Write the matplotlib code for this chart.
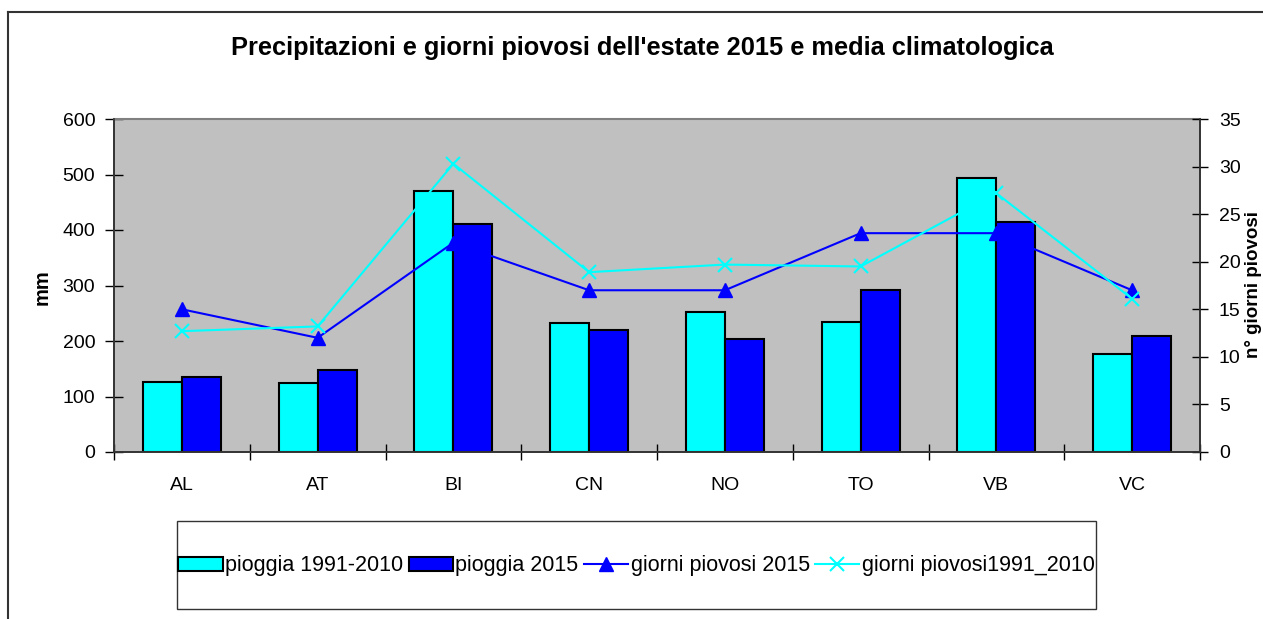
import matplotlib
matplotlib.use('Agg')
import matplotlib.pyplot as plt
from matplotlib.lines import Line2D
from matplotlib.patches import Patch, Rectangle
import numpy as np

plt.rcParams['font.family'] = ['Liberation Sans', 'DejaVu Sans']

regions = ['AL', 'AT', 'BI', 'CN', 'NO', 'TO', 'VB', 'VC']
pioggia_clima = [127, 124, 470, 232, 253, 234, 494, 176]
pioggia_2015 = [135, 147, 411, 219, 203, 291, 414, 209]
giorni_2015 = [15, 12, 22, 17, 17, 23, 23, 17]
giorni_clima = [12.7, 13.2, 30.3, 18.9, 19.7, 19.5, 27.2, 16.1]

W, H = 1263, 619
CYAN = '#00FFFF'
BLUE = '#0000FF'
GREY = '#C0C0C0'


def px(x, y):
    # pixel (from top-left) to figure fraction
    return x / W, 1 - y / H


fig = plt.figure(figsize=(W / 100, H / 100), dpi=100)
left, top = px(114, 119)
right, bottom = px(1200, 452)
ax = fig.add_axes([left, bottom, right - left, top - bottom])
ax.set_facecolor(GREY)

x = np.arange(len(regions))
w = 0.287
ax.bar(x - w / 2, pioggia_clima, w, color=CYAN, edgecolor='black', linewidth=1.5, zorder=2)
ax.bar(x + w / 2, pioggia_2015, w, color=BLUE, edgecolor='black', linewidth=1.5, zorder=2)

ax.set_xlim(-0.5, len(regions) - 0.5)
ax.set_ylim(0, 600)
ax.set_yticks(range(0, 601, 100))
ax.set_xticks(np.arange(-0.5, len(regions), 1))
ax.set_xticklabels([])
ax.set_xticks(x, minor=True)
ax.set_xticklabels(regions, minor=True)
ax.tick_params(axis='x', which='major', direction='inout', length=12, width=1, color='black')
ax.tick_params(axis='x', which='minor', length=0, pad=18, labelsize=14)
ax.tick_params(axis='y', direction='inout', length=13, width=1, pad=7, labelsize=14)

for side in ['left', 'bottom', 'right']:
    ax.spines[side].set_color('#333333')
    ax.spines[side].set_linewidth(1.2)
ax.spines['top'].set_color('#808080')
ax.spines['top'].set_linewidth(1.5)

ax2 = ax.twinx()
ax2.plot(x, giorni_2015, color=BLUE, linewidth=1.5, marker='^', markersize=10, zorder=3)
ax2.plot(x, giorni_clima, color=CYAN, linewidth=1.5, marker='x', markersize=10, markeredgewidth=1.5, zorder=3)
ax2.set_ylim(0, 35)
ax2.set_yticks(range(0, 36, 5))
ax2.tick_params(axis='y', direction='inout', length=11, width=1, pad=8, labelsize=14)
for side in ['left', 'bottom', 'right']:
    ax2.spines[side].set_color('#333333')
    ax2.spines[side].set_linewidth(1.2)
ax2.spines['top'].set_visible(False)

fig.text(*px(642, 48), "Precipitazioni e giorni piovosi dell'estate 2015 e media climatologica",
         ha='center', va='center', fontsize=18.3, fontweight='bold')
fig.text(*px(42, 287), 'mm', rotation=90, ha='center', va='center', fontsize=14.5, fontweight='bold')
fig.text(*px(1262, 285), 'n° giorni piovosi', rotation=90, ha='right', va='center',
         fontsize=13.5, fontweight='bold')

# outer chart frame
fig.add_artist(Line2D([8 / W, 8 / W], [1 - 12 / H, 0], transform=fig.transFigure, color='#333333', linewidth=1.5))
fig.add_artist(Line2D([8 / W, 1], [1 - 12 / H, 1 - 12 / H], transform=fig.transFigure, color='#333333', linewidth=1.5))

# legend box
lx0, ly1 = px(177, 609)
lx1, ly0 = px(1096, 521)
fig.add_artist(Rectangle((lx0, ly1), lx1 - lx0, ly0 - ly1, transform=fig.transFigure,
                         facecolor='white', edgecolor='#333333', linewidth=1))
handles = [
    Patch(facecolor=CYAN, edgecolor='black', linewidth=1.5),
    Patch(facecolor=BLUE, edgecolor='black', linewidth=1.5),
    Line2D([], [], color=BLUE, linewidth=1.5, marker='^', markersize=10),
    Line2D([], [], color=CYAN, linewidth=1.5, marker='x', markersize=10, markeredgewidth=1.5),
]
labels = ['pioggia 1991-2010', 'pioggia 2015', 'giorni piovosi 2015', 'giorni piovosi1991_2010']
fig.legend(handles, labels, loc='center', bbox_to_anchor=px(636.5, 566), ncol=4, frameon=False,
           fontsize=15.5, handlelength=2.05, handleheight=0.65, handletextpad=0.12, columnspacing=0.25,
           borderpad=0)

fig.savefig('out.png', dpi=100)
